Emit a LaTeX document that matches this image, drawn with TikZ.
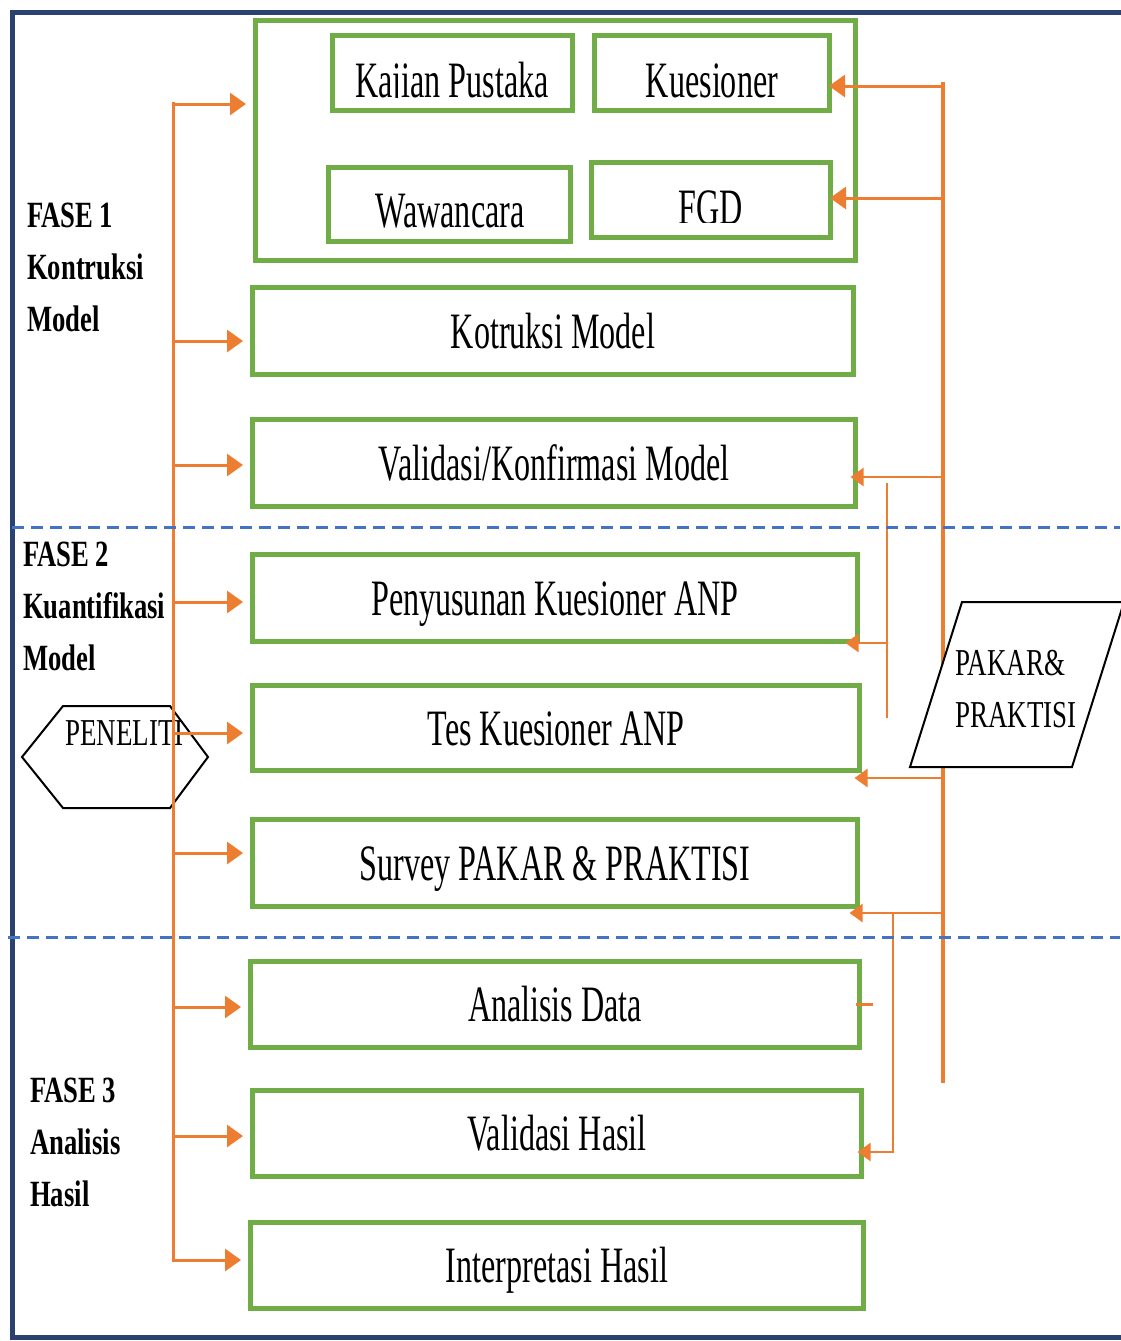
\documentclass[tikz,border=0pt]{standalone}
\usepackage{fontspec}
\setmainfont{Liberation Serif}
\newfontfamily\boxfont[FakeStretch=0.63]{Liberation Serif}
\newfontfamily\labfont[FakeStretch=0.71]{Liberation Serif}
\newfontfamily\phasefont[FakeStretch=0.72]{Liberation Serif}
\usetikzlibrary{arrows.meta}
\definecolor{gr}{HTML}{70AD47}
\definecolor{og}{HTML}{ED7D31}
\definecolor{nv}{HTML}{2B4170}
\definecolor{bl}{HTML}{4472C4}
\begin{document}
\begin{tikzpicture}[x=1pt,y=-1pt,
  gbox/.style={draw=gr, line width=5pt, inner sep=0pt, text height=34pt, text depth=0pt,
    font=\boxfont\fontsize{51}{51}\selectfont},
  btext/.style={inner sep=0pt, anchor=base, font=\boxfont\fontsize{51}{51}\selectfont},
  oarr/.style={draw=og, line width=3pt, -{Triangle[length=16pt,width=22pt]}},
  oarrs/.style={draw=og, line width=2.5pt, -{Triangle[length=13pt,width=18pt]}},
  oline/.style={draw=og, line width=3pt},
  othin/.style={draw=og, line width=2pt},
  phase/.style={anchor=north west, align=left, inner sep=0pt,
    font=\phasefont\bfseries\fontsize{37}{52}\selectfont},
  lab/.style={inner sep=0pt, align=left, font=\labfont\fontsize{38}{52}\selectfont},
  bluedash/.style={draw=bl, line width=3pt, dash pattern=on 12pt off 7pt},
  shapeline/.style={draw=black, line width=2pt}
]
\useasboundingbox (0,0) rectangle (1120,1341);

% outer frame
\draw[nv, line width=5pt] (1130,12) -- (12,12) -- (12,1337) -- (1130,1337);

% group box and sub-boxes
\node[draw=gr, line width=5pt, minimum width=600pt, minimum height=240pt, inner sep=0pt] (grp) at (555.5,140.5) {};
\node[draw=gr, line width=5pt, minimum width=240pt, minimum height=75pt, inner sep=0pt] (kp) at (452.5,73) {};
\node[draw=gr, line width=5pt, minimum width=235pt, minimum height=75pt, inner sep=0pt] (ku) at (712,73) {};
\node[draw=gr, line width=5pt, minimum width=242pt, minimum height=74pt, inner sep=0pt] (ww) at (449.5,204.5) {};
\node[draw=gr, line width=5pt, minimum width=239pt, minimum height=75pt, inner sep=0pt] (fgd) at (711,200) {};

\begin{scope}
  \clip (kp.north west) rectangle (kp.east |- 0,97);
  \node[btext] (kpt) at (452,97) {Kajian Pustaka};
\end{scope}
\begin{scope}
  \clip (ku.north west) rectangle (ku.east |- 0,97);
  \node[btext] (kut) at (712,97) {Kuesioner};
\end{scope}
\node[btext] (wwt) at (450,227) {Wawancara};
\begin{scope}
  \clip (fgd.north west) rectangle (fgd.east |- 0,222);
  \node[btext] (fgdt) at (710.5,224) {FGD};
\end{scope}

% main boxes
\node[gbox, minimum width=601pt, minimum height=87pt] (km) at (553,331) {Kotruksi Model};
\node[gbox, minimum width=603pt, minimum height=87pt] (vk) at (554,463) {Validasi/Konfirmasi Model};
\node[gbox, minimum width=605pt, minimum height=87pt] (pk) at (555,598) {Penyusunan Kuesioner ANP};
\node[gbox, minimum width=607pt, minimum height=85pt] (tk) at (556,728) {Tes Kuesioner ANP};
\node[gbox, minimum width=605pt, minimum height=87pt] (sp) at (555,863) {Survey PAKAR \& PRAKTISI};
\node[gbox, minimum width=609pt, minimum height=86pt] (ad) at (555,1004.5) {Analisis Data};
\node[gbox, minimum width=609pt, minimum height=86pt] (vh) at (557,1133.5) {Validasi Hasil};
\node[gbox, minimum width=613pt, minimum height=86pt] (ih) at (557,1265.5) {Interpretasi Hasil};

% phase labels
\node[phase] (f1) at (27,203) {FASE 1\\Kontruksi\\Model};
\node[phase] (f2) at (23,542) {FASE 2\\Kuantifikasi\\Model};
\node[phase] (f3) at (30,1078) {FASE 3\\Analisis\\Hasil};

% PENELITI hexagon
\draw[shapeline] (22,757) -- (63,706) -- (170,706) -- (208,757) -- (170,808) -- (63,808) -- cycle;
\node[lab, anchor=base west] (pen) at (65,745) {PENELITI};

% left spine
\coordinate (sT) at (173,102);
\coordinate (sB) at (173,1260);
\draw[oarr, shorten >=7pt] (sT) -- (sB) -- (ih.west |- sB);
\foreach \n/\yy in {grp/104, km/341, vk/465, pk/602, tk/733, sp/853, ad/1007, vh/1136}
  \draw[oarr, shorten >=7pt] (173,\yy) -- (\n.west |- 0,\yy);

% right side
\coordinate (rT) at (943,82);
\coordinate (rB) at (943,1083);
\draw[draw=og, line width=3.5pt] (rT) -- (rB);
\draw[oarr, shorten >=-3pt] (943,86) -- (ku.east |- 0,86);
\draw[oarr, shorten >=-3pt] (943,198) -- (fgd.east |- 0,198);
\draw[oarrs, shorten >=-7.5pt] (943,477) -- (vk.east |- 0,477);
\coordinate (s1T) at (887,483);
\coordinate (s1B) at (887,718);
\draw[othin] (s1T) -- (s1B);
\draw[oarrs, shorten >=-14.5pt] (887,643) -- (pk.east |- 0,643);
\draw[oarrs, shorten >=-7.5pt] (943,778) -- (tk.east |- 0,778);
\draw[oarrs, shorten >=-10.5pt] (943,913) -- (sp.east |- 0,913);
\coordinate (s2T) at (893,913);
\coordinate (s2B) at (893,1152);
\draw[oarrs, line width=2pt, shorten >=-6.5pt] (s2T) -- (s2B) -- (vh.east |- s2B);
\draw[oline] ([xshift=-6pt]ad.east |- 0,1004) -- ([xshift=11pt]ad.east |- 0,1004);

% dashed phase separators
\draw[bluedash] (12,527) -- (1120,527);
\draw[bluedash] (8,937) -- (1120,937);

% PAKAR & PRAKTISI parallelogram
\draw[shapeline, fill=white] (962,602) -- (1124,602) -- (1072,767) -- (910,767) -- cycle;
\node[lab, anchor=north west] (pp) at (955,650) {PAKAR\&\\PRAKTISI};
\end{tikzpicture}
\end{document}
